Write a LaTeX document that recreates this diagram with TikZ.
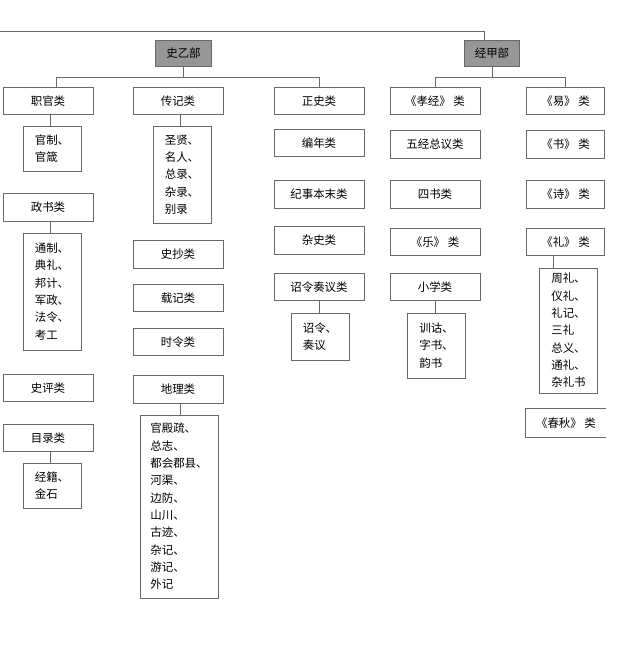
\documentclass[tikz,border=0pt]{standalone}
\usepackage{fontspec}
\newfontfamily\cjk{Noto Sans CJK SC}
\usepackage{xcolor}
\usepackage{tikz}
\usetikzlibrary{positioning,calc}
\definecolor{Xline}{RGB}{105,105,105}
\definecolor{Xhead}{RGB}{150,150,150}
\tikzset{
  link/.style={draw=Xline, line width=0.7pt},
  headbox/.style={draw=Xline, fill=Xhead, line width=0.7pt, minimum width=41.5pt, minimum height=19pt, inner sep=0pt, font=\cjk\fontsize{8.6}{13}\selectfont},
  catbox/.style={draw=Xline, line width=0.7pt, minimum width=67.5pt, minimum height=20.5pt, inner sep=0pt, font=\cjk\fontsize{8.6}{13}\selectfont},
  listbox/.style={draw=Xline, line width=0.7pt, minimum width=43.5pt, align=left, inner sep=0pt, font=\cjk\fontsize{8.6}{13}\selectfont}
}

\begin{document}
\begin{tikzpicture}[x=0.75pt, y=-0.75pt]
  \useasboundingbox (0,0) rectangle (640,654);

  % heads
  \node[headbox] (shi) at (183.5,53.5) {史乙部};
  \node[headbox] (jing) at (492,53.5) {经甲部};

  % column 1
  \node[catbox] (zhiguan) at (48,101) {职官类};
  \node[listbox, minimum height=33.75pt] (guanzhi) at (52,148.5) {官制、\\官箴};
  \node[catbox] (zhengshu) at (48,207.5) {政书类};
  \node[listbox, minimum height=87.75pt] (tongzhi) at (52,291.5) {通制、\\典礼、\\邦计、\\军政、\\法令、\\考工};
  \node[catbox] (shiping) at (48,388) {史评类};
  \node[catbox] (mulu) at (48,438) {目录类};
  \node[listbox, minimum height=33.75pt] (jingji) at (52,485.5) {经籍、\\金石};

  % column 2
  \node[catbox] (zhuanji) at (178,101) {传记类};
  \node[listbox, minimum height=72.75pt] (shengxian) at (182,174.5) {圣贤、\\名人、\\总录、\\杂录、\\别录};
  \node[catbox] (shichao) at (178,254.5) {史抄类};
  \node[catbox] (zaiji) at (178,298) {载记类};
  \node[catbox] (shiling) at (178,342) {时令类};
  \node[catbox] (dili) at (178,389.5) {地理类};
  \node[listbox, minimum width=58.5pt, minimum height=137.25pt] (gongdian) at (179,506.5) {官殿疏、\\总志、\\都会郡县、\\河渠、\\边防、\\山川、\\古迹、\\杂记、\\游记、\\外记};

  % column 3
  \node[catbox] (zhengshi) at (319,101) {正史类};
  \node[catbox] (biannian) at (319,143) {编年类};
  \node[catbox] (jishi) at (319,194.5) {纪事本末类};
  \node[catbox] (zashi) at (319,240.5) {杂史类};
  \node[catbox] (zhaoling) at (319,287) {诏令奏议类};
  \node[listbox, minimum height=35.25pt] (zouyi) at (320,336.5) {诏令、\\奏议};

  % column 4
  \node[catbox] (xiaojing) at (435,101) {《孝经》 类};
  \node[catbox] (wujing) at (435,144.5) {五经总议类};
  \node[catbox] (sishu) at (435,194.5) {四书类};
  \node[catbox] (yue) at (435,242) {《乐》 类};
  \node[catbox] (xiaoxue) at (435,287) {小学类};
  \node[listbox, minimum width=44pt, minimum height=48.75pt] (xungu) at (436.5,345.5) {训诂、\\字书、\\韵书};

  % column 5
  \node[catbox, minimum width=59pt] (yi) at (565.5,101) {《易》 类};
  \node[catbox, minimum width=59pt] (shu) at (565.5,144.5) {《书》 类};
  \node[catbox, minimum width=59pt] (shijing) at (565.5,194.5) {《诗》 类};
  \node[catbox, minimum width=59pt] (li) at (565.5,242) {《礼》 类};
  \node[listbox, minimum width=44pt, minimum height=93.75pt] (zhouli) at (568.5,330.5) {周礼、\\仪礼、\\礼记、\\三礼\\总义、\\通礼、\\杂礼书};
  \node[catbox, minimum width=60pt, draw=none] (chunqiu) at (566,423) {《春秋》 类};
  \draw[link] (chunqiu.north east) -- (chunqiu.north west) -- (chunqiu.south west) -- (chunqiu.south east);

  % tree lines
  \coordinate (topleft) at (0,31);
  \draw[link] (topleft) -| ([xshift=-6pt]jing.north);
  \draw[link] (shi.south) -- ++(0,11) coordinate (shimid);
  \draw[link] ([xshift=6pt]zhiguan.north) |- (shimid) -| (zhengshi.north);
  \draw[link] (jing.south) -- ++(0,11) coordinate (jingmid);
  \draw[link] (xiaojing.north) |- (jingmid) -| (yi.north);

  \draw[link] ([xshift=1.5pt]zhiguan.south) -- ([xshift=1.5pt]zhiguan.south |- guanzhi.north);
  \draw[link] ([xshift=1.5pt]zhengshu.south) -- ([xshift=1.5pt]zhengshu.south |- tongzhi.north);
  \draw[link] ([xshift=1.5pt]mulu.south) -- ([xshift=1.5pt]mulu.south |- jingji.north);
  \draw[link] ([xshift=1.5pt]zhuanji.south) -- ([xshift=1.5pt]zhuanji.south |- shengxian.north);
  \draw[link] ([xshift=1.5pt]dili.south) -- ([xshift=1.5pt]dili.south |- gongdian.north);
  \draw[link] (zhaoling.south) -- (zhaoling.south |- zouyi.north);
  \draw[link] (xiaoxue.south) -- (xiaoxue.south |- xungu.north);
  \draw[link] ([xshift=-9pt]li.south) -- ([xshift=-9pt]li.south |- zhouli.north);
\end{tikzpicture}
\end{document}
